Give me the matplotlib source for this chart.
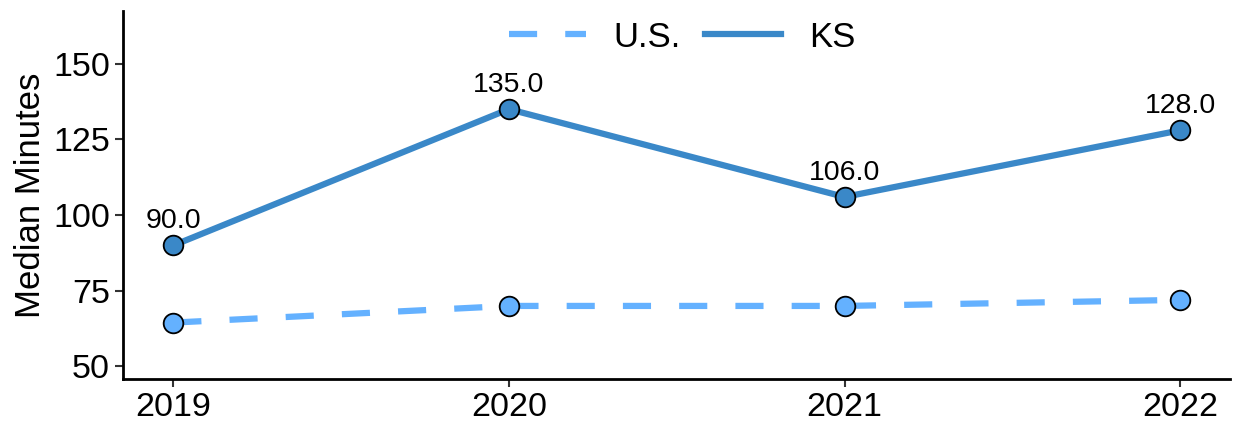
import matplotlib.pyplot as plt

# data
years = [2019, 2020, 2021, 2022]
us_minutes = [64.5, 70, 70, 72]
ks_minutes = [90, 135, 106, 128]
yticks = [50, 75, 100, 125, 150]

us_color = '#64B1FF'
ks_color = '#3A88C8'

plt.rcParams['font.family'] = ['Liberation Sans', 'DejaVu Sans']

fig = plt.figure(figsize=(12.36, 4.21), dpi=100)
ax = fig.add_axes([0.0995, 0.1, 0.896, 0.873])

ax.plot(years, us_minutes, color=us_color, lw=4.5, dashes=(4.5, 4.5), label='U.S.', zorder=2)
ax.plot(years, ks_minutes, color=ks_color, lw=4.5, label='KS', zorder=2)
ax.scatter(years, us_minutes, s=200, color=us_color, edgecolor='black', linewidth=1.3, zorder=3)
ax.scatter(years, ks_minutes, s=200, color=ks_color, edgecolor='black', linewidth=1.3, zorder=3)

# value labels on KS line
for x, y in zip(years, ks_minutes):
    ax.annotate(f'{y:.1f}', (x, y), xytext=(0, 8), textcoords='offset points',
                ha='center', va='bottom', fontsize=20.5)

ax.set_xlim(2018.85, 2022.15)
ax.set_ylim(45.9, 167.3)
ax.set_xticks(years)
ax.set_xticklabels([str(y) for y in years])
ax.set_yticks(yticks)
ax.set_ylabel('Median Minutes', fontsize=25)

ax.tick_params(labelsize=24.5, length=6, width=1.5, color='#333333', labelcolor='black')
for side in ['top', 'right']:
    ax.spines[side].set_visible(False)
for side in ['left', 'bottom']:
    ax.spines[side].set_linewidth(2)

ax.legend(loc='upper center', bbox_to_anchor=(0.505, 1.06), ncol=2, frameon=False,
          fontsize=25, handlelength=2.2, columnspacing=0.7, handletextpad=0.8)

plt.savefig('out.png', dpi=100)
